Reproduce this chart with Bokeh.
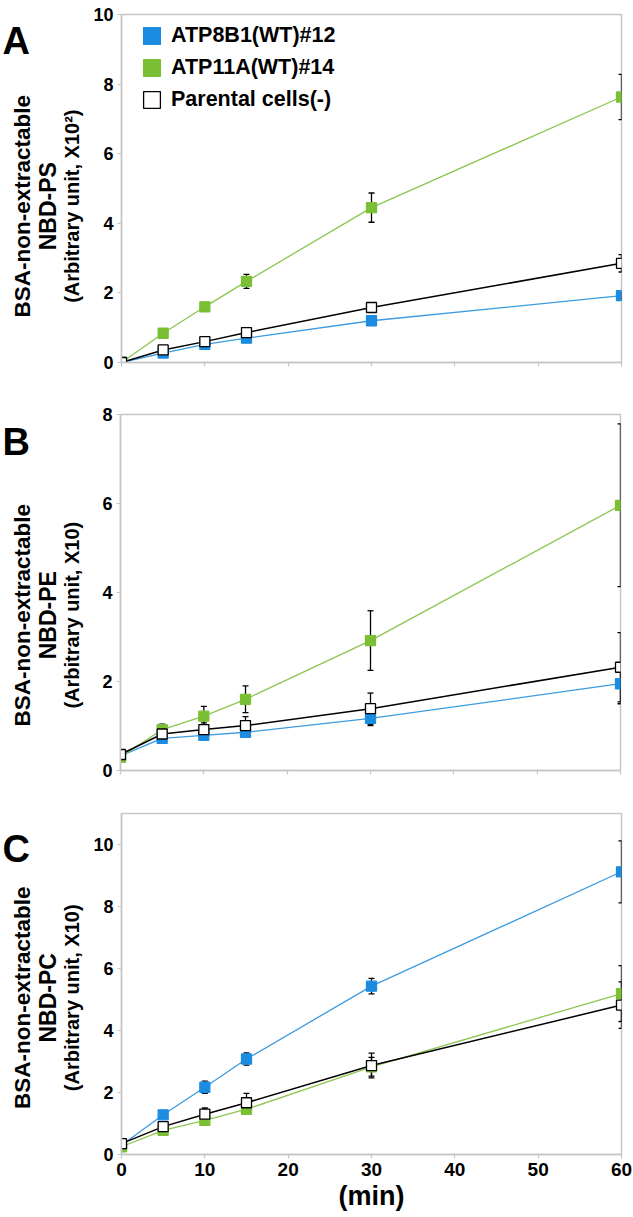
from bokeh.plotting import figure
from bokeh.models import (ColumnDataSource, Whisker, TeeHead, Legend,
                          LegendItem, Range1d)
from bokeh.core.properties import value
from bokeh.layouts import column, row
from bokeh.embed import file_html
from bokeh.resources import INLINE
import math

# ---------------- data ----------------
minutes = [0, 5, 10, 15, 30, 60]
x_ticks = [0, 10, 20, 30, 40, 50, 60]

series_names = ["ATP8B1(WT)#12", "ATP11A(WT)#14", "Parental cells(-)"]

# Panel A: NBD-PS (x10^2)
ps_atp8b1 = [0.0, 0.27, 0.52, 0.70, 1.20, 1.92]
ps_atp8b1_err = [0.0, 0.03, 0.05, 0.05, 0.08, 0.10]
ps_atp11a = [0.0, 0.84, 1.60, 2.33, 4.45, 7.63]
ps_atp11a_err = [0.0, 0.05, 0.12, 0.20, 0.42, 0.65]
ps_parental = [0.0, 0.36, 0.60, 0.86, 1.58, 2.85]
ps_parental_err = [0.0, 0.04, 0.05, 0.06, 0.10, 0.25]
ps_yticks = [0, 2, 4, 6, 8, 10]

# Panel B: NBD-PE (x10)
pe_atp8b1 = [0.33, 0.72, 0.79, 0.86, 1.17, 1.95]
pe_atp8b1_err = [0.02, 0.05, 0.08, 0.06, 0.16, 0.45]
pe_atp11a = [0.30, 0.92, 1.22, 1.60, 2.92, 5.96]
pe_atp11a_err = [0.02, 0.12, 0.22, 0.30, 0.67, 1.83]
pe_parental = [0.36, 0.82, 0.92, 1.01, 1.39, 2.32]
pe_parental_err = [0.02, 0.10, 0.15, 0.20, 0.35, 0.78]
pe_yticks = [0, 2, 4, 6, 8]

# Panel C: NBD-PC (x10)
pc_atp8b1 = [0.30, 1.28, 2.17, 3.08, 5.43, 9.12]
pc_atp8b1_err = [0.02, 0.06, 0.20, 0.20, 0.25, 1.00]
pc_atp11a = [0.25, 0.78, 1.10, 1.46, 2.83, 5.19]
pc_atp11a_err = [0.02, 0.05, 0.08, 0.10, 0.30, 0.90]
pc_parental = [0.35, 0.90, 1.30, 1.67, 2.87, 4.82]
pc_parental_err = [0.02, 0.06, 0.20, 0.30, 0.40, 0.75]
pc_yticks = [0, 2, 4, 6, 8, 10]

# ---------------- style ----------------
FONT = "Liberation Sans"
GREY = "#c6c6c6"
FILLS = ["#1c8ce0", "#7abf34", "white"]
OUTLINES = ["#1c8ce0", "#7abf34", "black"]
LINES = ["#3b9be0", "#8cc550", "black"]
LINE_W = [1.3, 1.3, 1.5]

ANNOT_W = 90


def make_annot(letter, lipid, unit, height, letter_base, title_c):
    """Left strip holding the panel letter and the y-axis title lines.
    letter_base / title_c are measured from the strip's top edge."""
    a = figure(width=ANNOT_W, height=height, x_range=Range1d(0, ANNOT_W),
               y_range=Range1d(0, height), output_backend="svg",
               toolbar_location=None, x_axis_location=None,
               y_axis_location=None, min_border=0, title=None)
    a.outline_line_color = None
    a.grid.visible = False
    a.text(x=[2], y=[height - letter_base], text=[letter],
           text_font=value(FONT), text_font_style="bold",
           text_font_size="38px", text_align="left",
           text_baseline="alphabetic", text_color="black")
    for txt, xx, fs in (("BSA-non-extractable", 22, "22.5px"),
                        (lipid, 47, "23px"),
                        (unit, 71, "20px")):
        a.text(x=[xx], y=[height - title_c], text=[txt], angle=math.pi / 2,
               text_font=value(FONT), text_font_style="bold",
               text_font_size=fs, text_align="center",
               text_baseline="middle", text_color="black")
    return a


def make_panel(vals, errs, ymax, yticks, b_top, frame_h, b_bottom,
               x_labels, legend):
    p = figure(frame_width=500, frame_height=frame_h,
               x_range=Range1d(0, 60), y_range=Range1d(0, ymax),
               output_backend="svg", toolbar_location=None,
               min_border_left=30, min_border_right=13,
               min_border_top=b_top, min_border_bottom=b_bottom,
               background_fill_color="white", border_fill_color="white")
    p.grid.visible = False
    p.outline_line_color = GREY
    p.outline_line_width = 1.5

    for ax in (p.xaxis, p.yaxis):
        ax.axis_line_color = GREY
        ax.axis_line_width = 1.5
        ax.major_tick_line_color = GREY
        ax.major_tick_line_width = 1.2
        ax.major_tick_in = 0
        ax.major_tick_out = 4
        ax.minor_tick_line_color = None
        ax.major_label_standoff = 4
        ax.major_label_text_font = FONT
        ax.major_label_text_font_style = "bold"
        ax.major_label_text_color = "black"
    p.yaxis.ticker = yticks
    p.yaxis.major_label_text_font_size = "18px"
    p.xaxis.ticker = x_ticks
    p.xaxis.major_label_text_font_size = "19px"
    if x_labels:
        p.xaxis.axis_label = "(min)"
        p.xaxis.axis_label_text_font = FONT
        p.xaxis.axis_label_text_font_style = "bold"
        p.xaxis.axis_label_text_font_size = "27px"
        p.xaxis.axis_label_text_color = "black"
        p.xaxis.axis_label_standoff = 2
    else:
        p.xaxis.major_label_overrides = {t: "" for t in x_ticks}

    rects = []
    for i in range(3):
        p.line(minutes, vals[i], line_color=LINES[i], line_width=LINE_W[i])
    for i in range(3):
        up = [v + e for v, e in zip(vals[i], errs[i])]
        lo = [v - e for v, e in zip(vals[i], errs[i])]
        src = ColumnDataSource(dict(t=minutes, up=up, lo=lo))
        w = Whisker(base="t", upper="up", lower="lo", source=src,
                    line_color="black", line_width=1.3, level="underlay",
                    upper_head=TeeHead(size=6, line_color="black", line_width=1.3),
                    lower_head=TeeHead(size=6, line_color="black", line_width=1.3))
        p.add_layout(w)
    for i in range(3):
        r = p.rect(minutes, vals[i], width=10, height=10,
                   width_units="screen", height_units="screen",
                   fill_color=FILLS[i], line_color=OUTLINES[i],
                   line_width=1.3)
        rects.append(r)

    if legend:
        items = [LegendItem(label=series_names[i], renderers=[rects[i]])
                 for i in range(3)]
        lg = Legend(items=items, location=(20, frame_h - 98),
                    label_text_font=FONT, label_text_font_style="bold",
                    label_text_font_size="21.5px", label_text_color="black",
                    glyph_width=21, glyph_height=21, label_height=24,
                    spacing=7, padding=0, margin=0, label_standoff=9,
                    border_line_color=None, background_fill_alpha=0)
        p.add_layout(lg)
    return p


# heights: A 14+348+32 = 394, B 20+356+32 = 408, C 11+341+~60
pA = make_panel([ps_atp8b1, ps_atp11a, ps_parental],
                [ps_atp8b1_err, ps_atp11a_err, ps_parental_err],
                10, ps_yticks, 14, 348, 32, False, True)
aA = make_annot("A", "NBD-PS", "(Arbitrary unit, X10\u00b2)", 394, 30, 217)

pB = make_panel([pe_atp8b1, pe_atp11a, pe_parental],
                [pe_atp8b1_err, pe_atp11a_err, pe_parental_err],
                8, pe_yticks, 20, 356, 32, False, False)
aB = make_annot("B", "NBD-PE", "(Arbitrary unit, X10)", 408, 31, 230)

pC = make_panel([pc_atp8b1, pc_atp11a, pc_parental],
                [pc_atp8b1_err, pc_atp11a_err, pc_parental_err],
                11, pc_yticks, 11, 341, 40, True, False)
aC = make_annot("C", "NBD-PC", "(Arbitrary unit, X10)", 412, 43, 222)

layout = column(row(aA, pA, spacing=0), row(aB, pB, spacing=0),
                row(aC, pC, spacing=0), spacing=0)
open("out.html", "w").write(file_html(layout, INLINE))
